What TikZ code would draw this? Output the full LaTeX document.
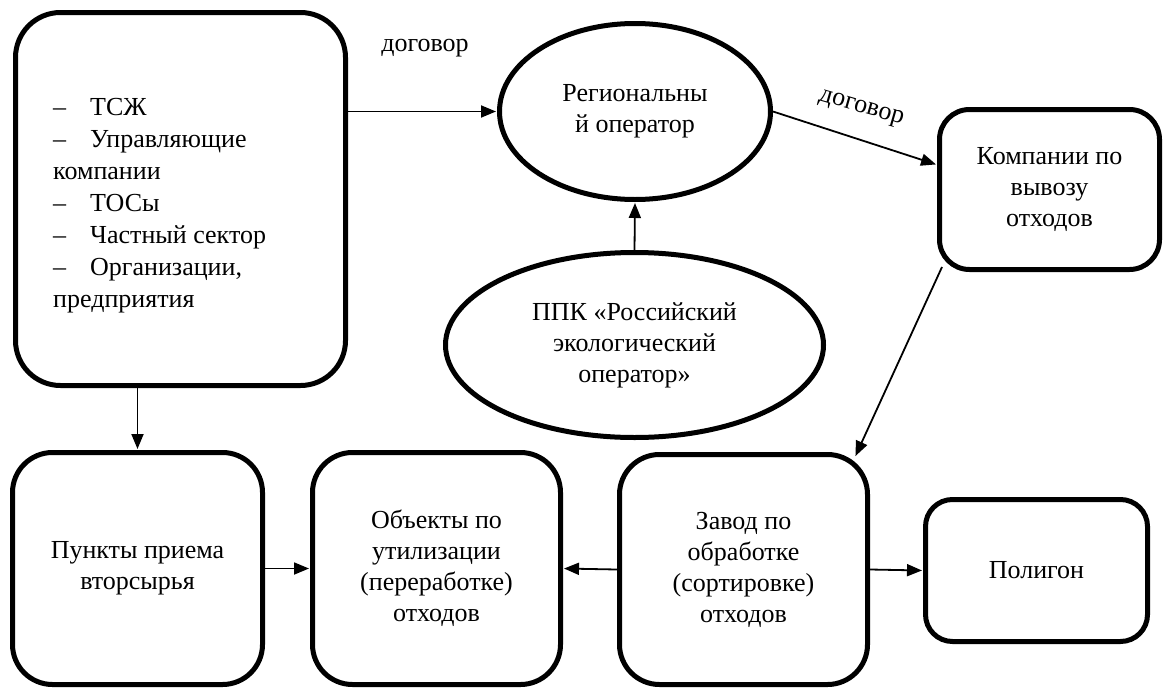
\documentclass[tikz,border=0pt]{standalone}
\usepackage{fontspec}
\setmainfont{Liberation Serif}
\usetikzlibrary{arrows.meta,shapes.geometric,calc}
\newcommand\dfont{\rmfamily\fontsize{26}{31}\selectfont}
\newcommand\lfont{\rmfamily\fontsize{26}{32}\selectfont}
\begin{document}
\begin{tikzpicture}[x=1pt,y=-1pt,
  box/.style={draw, line width=5pt, rectangle, rounded corners=#1, inner sep=0pt, align=center, font=\dfont},
  box/.default=40pt,
  oval/.style={draw, line width=5pt, ellipse, inner sep=0pt, align=center, font=\dfont},
  arr/.style={-{Triangle[length=15pt,width=12pt]}, line width=1.8pt, shorten >=1pt},
  lbl/.style={font=\dfont, inner sep=0pt}]
\fill[white] (0,0) rectangle (1164,688);
\useasboundingbox (0,0) rectangle (1164,688);
% nodes
\node[box=45pt, minimum width=330pt, minimum height=373pt] (A) at (180.5,199) {};
\node[anchor=north west, inner sep=0pt, align=left, font=\lfont] (At) at (53,98)
 {\makebox[37pt][l]{–}ТСЖ\\
  \makebox[37pt][l]{–}Управляющие\\
  компании\\
  \makebox[37pt][l]{–}ТОСы\\
  \makebox[37pt][l]{–}Частный сектор\\
  \makebox[37pt][l]{–}Организации,\\
  предприятия};
\node[oval, minimum width=271pt, minimum height=176pt] (R) at (635,111.5) {Региональны\\й оператор};
\node[oval, minimum width=378pt, minimum height=185pt] (P) at (634.5,345) {ППК «Российский\\экологический\\оператор»};
\node[box=30pt, minimum width=220pt, minimum height=160pt] (K) at (1049.5,189.5) {Компании по\\вывозу\\отходов};
\node[box, minimum width=250pt, minimum height=232pt] (Pu) at (137.5,568.5) {Пункты приема\\вторсырья};
\node[box, minimum width=248pt, minimum height=232pt] (O) at (436.5,568.5) {Объекты по\\утилизации\\(переработке)\\отходов};
\node[box, minimum width=248pt, minimum height=230pt] (Z) at (743.5,569.5) {Завод по\\обработке\\(сортировке)\\отходов};
\node[box=27pt, minimum width=222pt, minimum height=142pt] (Pol) at (1036.5,570.5) {Полигон};
% labels
\node[lbl] (d1) at (425,48) {договор};
\node[lbl, rotate=-16] (d2) at (861,109) {договор};
% connectors
\coordinate (Kin) at ($(K.north west)!0.35!(K.south west)$);
\draw[arr] (A.east |- R.west) -- (R.west);
\draw[arr] (P.north) -- (R.south);
\draw[arr] (R.east) -- (Kin);
\draw[arr] ([shift={(5,-5)}]K.south west) -- ([shift={(-15,5)}]Z.north east);
\draw[arr] (A.south -| Pu.north) -- (Pu.north);
\draw[arr] (Pu.east) -- (O.west);
\draw[arr] (Z.west) -- (O.east);
\draw[arr] (Z.east) -- (Pol.west);
\end{tikzpicture}
\end{document}
